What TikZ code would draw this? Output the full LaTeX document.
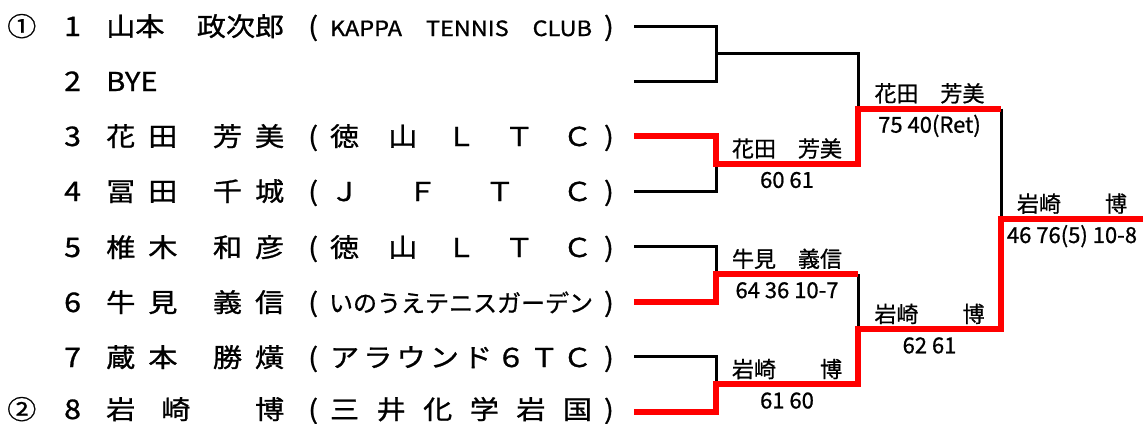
\documentclass[tikz,border=0pt]{standalone}
\usepackage{fontspec}
\setmainfont{Noto Sans CJK JP}
\newfontfamily\jp{Noto Sans CJK JP}[FakeBold=0.8]
\newfontfamily\widejp{Noto Sans CJK JP}[FakeStretch=1.12,FakeBold=1]
\usetikzlibrary{calc}
\tikzset{loser/.style={line width=3pt},
  winner/.style={red,line width=6pt},
  entry/.style={anchor=base west,inner sep=0pt,font=\fontsize{26}{26}\widejp},
  num/.style={anchor=base west,inner sep=0pt,font=\fontsize{27}{27}\widejp},
  wname/.style={anchor=base,inner sep=0pt,yshift=7pt,font=\fontsize{22}{22}\jp},
  wscore/.style={anchor=base,inner sep=0pt,yshift=-24pt,font=\fontsize{22}{22}\jp}}
\newcommand{\namefield}[1]{\makebox[178pt][l]{#1}}
\newcommand{\clubfield}[1]{(\hspace{12pt}\makebox[262pt]{#1}\hspace{12pt})}

\begin{document}
\begin{tikzpicture}[x=1pt,y=-1pt]
  \useasboundingbox (0,0) rectangle (1143,423);

  % entries
  \node[entry] (seed1) at (7,36) {①};
  \node[entry] (seed2) at (7,419) {②};
  \foreach \k/\y in {1/36,2/91,3/146,4/201,5/257,6/312,7/367,8/419}
    \node[num] (num\k) at (64,\y) {\k};

  \node[entry] (name1) at (106,36) {\namefield{山本\hfill 政次郎}};
  \node[entry] (name2) at (106,91) {BYE};
  \node[entry] (name3) at (106,146) {\namefield{花\hspace{13pt}田\hfill 芳\hspace{13pt}美}};
  \node[entry] (name4) at (106,201) {\namefield{冨\hspace{13pt}田\hfill 千\hspace{13pt}城}};
  \node[entry] (name5) at (106,257) {\namefield{椎\hspace{13pt}木\hfill 和\hspace{13pt}彦}};
  \node[entry] (name6) at (106,312) {\namefield{牛\hspace{13pt}見\hfill 義\hspace{13pt}信}};
  \node[entry] (name7) at (106,367) {\namefield{蔵\hspace{13pt}本\hfill 勝\hspace{13pt}熿}};
  \node[entry] (name8) at (106,419) {\namefield{岩\hspace{26pt}崎\hfill 博}};

  \node[entry] (club1) at (308,36) {\clubfield{\makebox[262pt][s]{\fontsize{21}{21}\widejp KAPPA TENNIS CLUB}}};
  \node[entry] (club3) at (308,146) {\clubfield{徳\hfill 山\hfill Ｌ\hfill Ｔ\hfill Ｃ}};
  \node[entry] (club4) at (308,201) {\clubfield{Ｊ\hfill Ｆ\hfill Ｔ\hfill Ｃ}};
  \node[entry] (club5) at (308,257) {\clubfield{徳\hfill 山\hfill Ｌ\hfill Ｔ\hfill Ｃ}};
  \node[entry] (club6) at (308,312) {\clubfield{\fontsize{24}{24}\jp いのうえテニスガーデン}};
  \node[entry] (club7) at (308,367) {\clubfield{ア\hfill ラ\hfill ウ\hfill ン\hfill ド\hfill ６\hfill Ｔ\hfill Ｃ}};
  \node[entry] (club8) at (308,419) {\clubfield{三\hfill 井\hfill 化\hfill 学\hfill 岩\hfill 国}};

  % bracket
  \foreach \k in {1,...,8}
    \coordinate (p\k) at (634,{26+55.14*(\k-1)});
  \coordinate (c1) at (716,0);
  \coordinate (c2) at (858,0);
  \coordinate (c3) at (1001,0);
  \coordinate (c4) at (1143,0);
  \coordinate (m1) at ($(p1)!.5!(p2)$);
  \coordinate (m2) at ($(p3)!.5!(p4)$);
  \coordinate (m3) at ($(p5)!.5!(p6)$);
  \coordinate (m4) at ($(p7)!.5!(p8)$);
  \coordinate (n1) at ($(m1)!.5!(m2)$);
  \coordinate (n2) at ($(m3)!.5!(m4)$);
  \coordinate (fin) at ($(n1)!.5!(n2)$);

  \draw[loser] (p1) -- (p1-|c1) -- (p2-|c1) -- (p2);
  \draw[loser] (m1-|c1) -- (m1-|c2) -- (n1-|c2);
  \draw[loser] (p4) -- (p4-|c1) -- (m2-|c1);
  \draw[loser] (p5) -- (p5-|c1) -- (m3-|c1);
  \draw[loser] (m3-|c2) -- (n2-|c2);
  \draw[loser] (p7) -- (p7-|c1) -- (m4-|c1);
  \draw[loser] (n1-|c3) -- (fin-|c3);

  \draw[winner] (p3) -- (p3-|c1) -- (m2-|c1) -- (m2-|c2) -- (n1-|c2) -- (n1-|c3);
  \draw[winner] (p6) -- (p6-|c1) -- (m3-|c1) -- (m3-|c2);
  \draw[winner] (p8) -- (p8-|c1) -- (m4-|c1) -- (m4-|c2) -- (n2-|c2) -- (n2-|c3)
    -- (fin-|c3) -- (fin-|c4);

  % results
  \node[wname] (w34) at ($(m2-|c1)!.5!(m2-|c2)$) {花田　芳美};
  \node[wscore] (s34) at ($(m2-|c1)!.5!(m2-|c2)$) {60 61};
  \node[wname] (w56) at ($(m3-|c1)!.5!(m3-|c2)$) {牛見　義信};
  \node[wscore] (s56) at ($(m3-|c1)!.5!(m3-|c2)$) {64 36 10-7};
  \node[wname] (w78) at ($(m4-|c1)!.5!(m4-|c2)$) {岩崎　　博};
  \node[wscore] (s78) at ($(m4-|c1)!.5!(m4-|c2)$) {61 60};
  \node[wname] (wsf1) at ($(n1-|c2)!.5!(n1-|c3)$) {花田　芳美};
  \node[wscore] (ssf1) at ($(n1-|c2)!.5!(n1-|c3)$) {75 40(Ret)};
  \node[wname] (wsf2) at ($(n2-|c2)!.5!(n2-|c3)$) {岩崎　　博};
  \node[wscore] (ssf2) at ($(n2-|c2)!.5!(n2-|c3)$) {62 61};
  \node[wname] (wfin) at ($(fin-|c3)!.5!(fin-|c4)$) {岩崎　　博};
  \node[wscore] (sfin) at ($(fin-|c3)!.5!(fin-|c4)$) {46 76(5) 10-8};
\end{tikzpicture}
\end{document}
